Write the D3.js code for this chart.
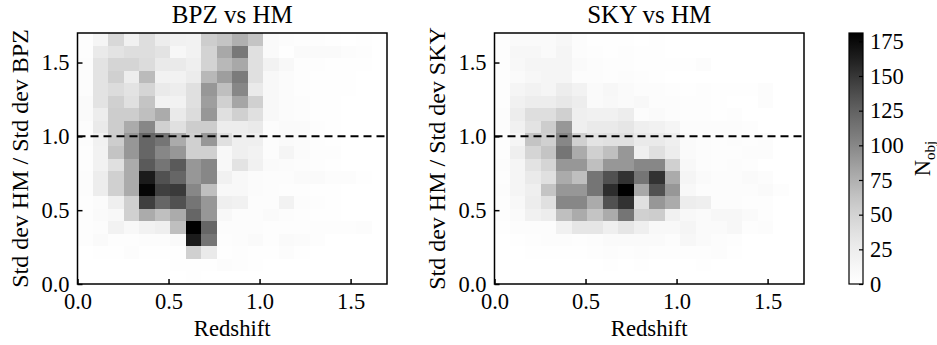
<!DOCTYPE html>
<html>
<head>
<meta charset="utf-8">
<script src="https://cdn.jsdelivr.net/npm/d3@7"></script>
<style>
  html, body { margin: 0; padding: 0; background: #fff; }
  svg { display: block; }
  text { font-family: "Liberation Serif", "DejaVu Serif", serif; fill: #000; }
</style>
</head>
<body>
<svg id="chart" width="937" height="345"></svg>
<script>
// ---------------- DATA ----------------
// bin edges (shared in x = redshift and y = std-dev ratio)
const binEdges = [0, 0.085, 0.17, 0.255, 0.34, 0.425, 0.51, 0.595, 0.68, 0.765, 0.85,
                  0.935, 1.02, 1.105, 1.19, 1.275, 1.36, 1.445, 1.53, 1.615, 1.7];
const xTicks = [0.0, 0.5, 1.0, 1.5];
const yTicks = [0.0, 0.5, 1.0, 1.5];
const cbTicks = [0, 25, 50, 75, 100, 125, 150, 175];
const refLine = 1.0;
const countMax = 181;
const panelTitles = ["BPZ vs HM", "SKY vs HM"];
const yLabels = ["Std dev HM / Std dev BPZ", "Std dev HM / Std dev SKY"];
const xLabel = "Redshift";

// counts per cell; rows listed from the TOP y-bin (1.615-1.7) down to the bottom bin (0-0.085)
const bpzCounts = [
  [3,15,45,20,40,25,20,18,55,62,75,62,8,5,3,3,2,0,2,0],
  [3,28,35,40,40,35,12,18,50,80,110,38,8,2,8,8,8,5,3,0],
  [5,35,48,48,42,28,28,22,50,70,80,38,18,10,3,3,2,2,2,0],
  [5,35,52,25,68,18,18,26,70,86,108,38,10,6,3,2,2,2,0,0],
  [5,35,42,35,48,28,25,38,90,65,100,28,10,6,3,2,2,2,0,0],
  [8,35,52,38,62,18,18,38,86,52,82,52,10,6,5,2,2,0,0,0],
  [8,25,55,55,65,78,28,42,90,38,52,38,10,6,5,2,2,0,0,0],
  [5,28,55,78,100,52,38,55,55,25,25,28,5,8,8,3,2,0,0,0],
  [5,20,55,90,122,112,78,52,90,38,22,22,4,8,6,3,2,0,0,0],
  [3,18,62,90,122,100,90,52,52,10,22,18,5,15,6,3,3,0,0,0],
  [3,18,38,78,130,112,130,90,100,10,35,20,8,6,5,3,2,0,0,0],
  [5,25,52,78,165,135,122,90,100,20,10,6,5,4,8,8,5,4,2,0],
  [5,25,52,78,178,145,148,100,65,10,10,6,5,3,3,2,2,0,0,0],
  [3,6,22,52,145,122,135,112,90,22,20,5,5,18,5,3,2,0,0,0],
  [3,8,10,52,78,65,78,122,90,10,5,4,8,5,3,2,2,0,0,0],
  [3,5,18,10,18,22,65,182,122,5,4,5,3,3,3,3,3,3,5,0],
  [3,8,3,3,5,5,8,165,112,3,5,8,3,8,6,3,0,0,0,0],
  [0,2,2,5,2,2,2,52,28,2,3,2,2,5,2,0,0,0,0,0],
  [0,0,0,0,0,0,2,2,2,5,3,2,0,0,0,0,0,0,0,0],
  [0,0,0,0,0,0,0,2,0,0,0,0,0,0,0,0,0,0,0,0]
];

const skyCounts = [
  [3,8,8,8,12,4,2,2,2,0,2,0,0,0,0,0,0,0,0,0],
  [3,12,12,8,15,5,3,2,3,2,2,0,0,0,0,0,0,0,0,0],
  [3,10,15,15,15,8,4,3,3,2,2,2,2,4,0,0,0,0,0,0],
  [3,8,12,15,15,5,5,3,5,3,2,0,0,0,0,0,0,0,0,0],
  [3,15,18,15,25,18,8,12,8,4,5,3,2,3,2,2,2,5,0,0],
  [3,20,25,25,30,25,8,10,8,10,5,4,3,3,2,0,0,5,0,0],
  [5,25,40,40,52,22,20,20,25,5,8,5,3,3,2,3,0,0,0,0],
  [5,20,35,55,90,22,28,28,32,22,20,15,5,4,5,5,3,0,0,0],
  [3,15,62,52,100,52,35,38,38,28,28,22,8,5,3,5,3,5,0,0],
  [3,22,48,62,112,78,52,65,90,22,38,25,8,5,3,3,5,5,0,0],
  [5,15,35,48,90,90,65,90,90,100,100,52,10,5,3,4,3,0,0,0],
  [3,15,28,38,78,65,112,135,152,112,152,78,15,8,5,5,8,5,0,0],
  [5,15,22,62,90,90,112,155,182,80,135,90,10,5,5,5,5,8,3,0],
  [3,10,25,38,100,100,78,135,152,38,90,78,25,22,5,5,3,3,0,0],
  [3,8,20,25,65,78,62,78,112,52,55,20,10,8,12,12,8,3,0,0],
  [2,4,5,5,20,32,32,22,32,22,10,10,15,8,8,12,3,5,0,0],
  [0,2,3,5,5,3,5,8,8,8,8,5,12,8,5,3,0,0,0,0],
  [0,0,2,2,2,2,3,5,3,5,3,3,3,3,5,2,0,0,0,0],
  [0,0,0,0,0,0,0,2,0,2,0,0,0,2,0,0,0,0,0,0],
  [0,0,0,0,0,0,0,0,0,0,0,0,0,0,0,0,0,0,0,0]
];

// ---------------- LAYOUT ----------------
const svg = d3.select("#chart");
const plotTop = 33, plotBottom = 284;
const panels = [
  { left: 77.5, right: 387, counts: bpzCounts, title: panelTitles[0], ylabel: yLabels[0] },
  { left: 494.5, right: 804, counts: skyCounts, title: panelTitles[1], ylabel: yLabels[1] }
];
const color = d3.scaleSequential(d3.interpolateGreys).domain([0, countMax]);
const fmt = d3.format(".1f");
const FS = 22.5;
const SERIF = "'Liberation Serif', 'DejaVu Serif', serif";

panels.forEach((p, pi) => {
  const x = d3.scaleLinear().domain([0, 1.7]).range([p.left, p.right]);
  const y = d3.scaleLinear().domain([0, 1.7]).range([plotBottom, plotTop]);
  const g = svg.append("g");
  const n = p.counts.length;
  const cells = [];
  p.counts.forEach((row, ri) => {
    const yb = n - 1 - ri;
    row.forEach((v, ci) => cells.push({ xb: ci, yb: yb, v: v }));
  });
  g.append("g").selectAll("rect").data(cells).join("rect")
    .attr("x", d => x(binEdges[d.xb]))
    .attr("y", d => y(binEdges[d.yb + 1]))
    .attr("width", d => x(binEdges[d.xb + 1]) - x(binEdges[d.xb]) + 0.5)
    .attr("height", d => y(binEdges[d.yb]) - y(binEdges[d.yb + 1]) + 0.5)
    .attr("fill", d => color(d.v))
    .attr("shape-rendering", "crispEdges");

  // reference dashed line
  g.append("line")
    .attr("x1", x(0)).attr("x2", x(1.7))
    .attr("y1", y(refLine)).attr("y2", y(refLine))
    .attr("stroke", "#000").attr("stroke-width", 2)
    .attr("stroke-dasharray", "8,5");

  // axes
  const xa = g.append("g").attr("transform", `translate(0,${plotBottom})`)
    .call(d3.axisBottom(x).tickValues(xTicks).tickFormat(fmt).tickSizeInner(-5).tickSizeOuter(0).tickPadding(9));
  const ya = g.append("g").attr("transform", `translate(${p.left},0)`)
    .call(d3.axisLeft(y).tickValues(yTicks).tickFormat(fmt).tickSizeInner(-5).tickSizeOuter(0).tickPadding(8));
  [xa, ya].forEach(a => {
    a.attr("font-family", SERIF).attr("font-size", FS);
    a.select(".domain").remove();
    a.selectAll(".tick line").attr("stroke", "#000").attr("stroke-width", 1.5);
    a.selectAll(".tick text").attr("fill", "#000");
  });

  // frame
  g.append("rect")
    .attr("x", p.left).attr("y", plotTop)
    .attr("width", p.right - p.left).attr("height", plotBottom - plotTop)
    .attr("fill", "none").attr("stroke", "#000").attr("stroke-width", 1.5);

  // title
  g.append("text")
    .attr("x", (p.left + p.right) / 2).attr("y", 22.5)
    .attr("text-anchor", "middle").attr("font-size", 25)
    .text(p.title);
  // x label
  g.append("text")
    .attr("x", (p.left + p.right) / 2).attr("y", 336)
    .attr("text-anchor", "middle").attr("font-size", 22.7)
    .text(xLabel);
  // y label
  g.append("text")
    .attr("transform", `translate(${p.left - 50},${(plotTop + plotBottom) / 2}) rotate(-90)`)
    .attr("text-anchor", "middle").attr("font-size", 24)
    .text(p.ylabel);
});

// ---------------- COLORBAR ----------------
const cbLeft = 849, cbRight = 863;
const cy = d3.scaleLinear().domain([0, countMax]).range([plotBottom, plotTop]);
const defs = svg.append("defs");
const grad = defs.append("linearGradient").attr("id", "cbgrad")
  .attr("x1", 0).attr("y1", 1).attr("x2", 0).attr("y2", 0);
d3.range(0, 1.0001, 0.05).forEach(t => {
  grad.append("stop").attr("offset", t).attr("stop-color", d3.interpolateGreys(t));
});
svg.append("rect").attr("x", cbLeft).attr("y", plotTop)
  .attr("width", cbRight - cbLeft).attr("height", plotBottom - plotTop)
  .attr("fill", "url(#cbgrad)");
const cba = svg.append("g").attr("transform", `translate(${cbRight},0)`)
  .call(d3.axisRight(cy).tickValues(cbTicks).tickSizeInner(-4).tickSizeOuter(0).tickPadding(7));
cba.attr("font-family", SERIF).attr("font-size", FS);
cba.select(".domain").remove();
cba.selectAll(".tick line").attr("stroke", "#000").attr("stroke-width", 1.2);
cba.selectAll(".tick text").attr("fill", "#000");
svg.append("rect").attr("x", cbLeft).attr("y", plotTop)
  .attr("width", cbRight - cbLeft).attr("height", plotBottom - plotTop)
  .attr("fill", "none").attr("stroke", "#000").attr("stroke-width", 1.2);
const cbl = svg.append("text")
  .attr("transform", `translate(930,${(plotTop + plotBottom) / 2}) rotate(-90)`)
  .attr("text-anchor", "middle").attr("font-size", FS);
cbl.append("tspan").text("N");
cbl.append("tspan").attr("font-size", 15).attr("dy", 5).text("obj");
</script>
</body>
</html>
